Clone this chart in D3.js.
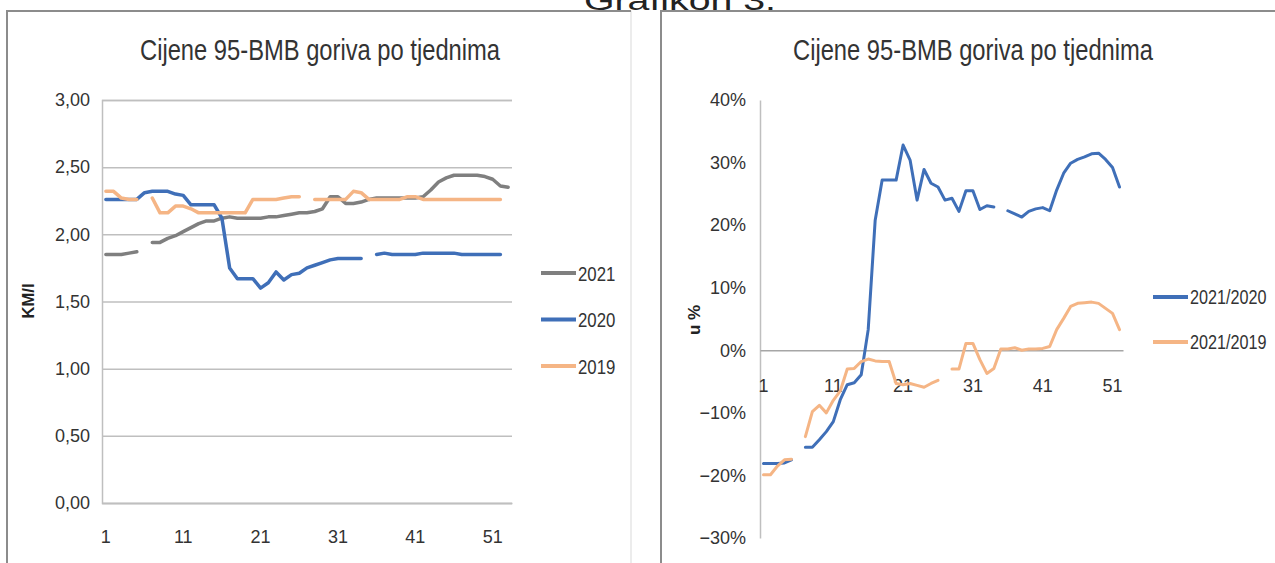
<!DOCTYPE html>
<html><head><meta charset="utf-8">
<script src="https://cdn.jsdelivr.net/npm/d3@7"></script>
<style>
html,body{margin:0;padding:0;background:#fff;}
svg{display:block;}
text{font-family:"Liberation Sans Narrow","Liberation Sans",Arial,sans-serif;fill:#3a3a3a;}
</style></head><body>
<svg id="c" width="1275" height="563"></svg>
<script>
// ---------- DATA ----------
const chartTitle = "Cijene 95-BMB goriva po tjednima";
const pageCaption = "Grafikon 3.";
const weeksLeft = d3.range(1, 54);   // 53 weeks
const weeksRight = d3.range(1, 53);  // 52 weeks
const xTickLabels = [1, 11, 21, 31, 41, 51];
const yTicksLeft = [0, 0.5, 1, 1.5, 2, 2.5, 3];
const yTicksRight = [-0.3, -0.2, -0.1, 0, 0.1, 0.2, 0.3, 0.4];

const price2021 = [1.85,1.85,1.85,1.86,1.87,null,1.94,1.94,1.97,1.99,2.02,2.05,2.08,2.10,2.10,2.12,2.13,2.12,2.12,2.12,2.12,2.13,2.13,2.14,2.15,2.16,2.16,2.17,2.19,2.28,2.28,2.23,2.23,2.24,2.26,2.27,2.27,2.27,2.27,2.27,2.27,2.28,2.33,2.39,2.42,2.44,2.44,2.44,2.44,2.43,2.41,2.36,2.35];
const price2020 = [2.26,2.26,2.26,2.26,2.26,2.31,2.32,2.32,2.32,2.30,2.29,2.22,2.22,2.22,2.22,2.12,1.75,1.67,1.67,1.67,1.60,1.64,1.72,1.66,1.70,1.71,1.75,1.77,1.79,1.81,1.82,1.82,1.82,1.82,null,1.85,1.86,1.85,1.85,1.85,1.85,1.86,1.86,1.86,1.86,1.86,1.85,1.85,1.85,1.85,1.85,1.85,null];
const price2019 = [2.32,2.32,2.27,2.26,2.26,null,2.27,2.16,2.16,2.21,2.21,2.19,2.16,2.16,2.16,2.16,2.16,2.16,2.16,2.26,2.26,2.26,2.26,2.27,2.28,2.28,null,2.26,2.26,2.26,2.26,2.26,2.32,2.31,2.26,2.26,2.26,2.26,2.26,2.28,2.28,2.26,2.26,2.26,2.26,2.26,2.26,2.26,2.26,2.26,2.26,2.26,null];

const change2120 = [-18.1,-18.1,-18.1,-18.0,-17.5,null,-15.5,-15.5,-14.3,-13.0,-11.4,-7.9,-5.5,-5.2,-3.9,3.3,20.8,27.2,27.2,27.2,32.8,30.4,24.0,28.9,26.7,26.1,24.0,24.3,22.2,25.5,25.5,22.5,23.1,22.9,null,22.3,21.8,21.3,22.2,22.6,22.8,22.3,25.6,28.3,29.9,30.5,30.9,31.4,31.5,30.5,29.2,26.1];
const change2119 = [-19.9,-19.9,-18.5,-17.5,-17.4,null,-13.8,-9.8,-8.8,-10.0,-8.0,-6.5,-3.0,-2.9,-1.8,-1.4,-1.7,-1.8,-1.8,-5.3,-5.5,-5.3,-5.6,-5.9,-5.3,-4.8,null,-3.0,-3.0,1.1,1.1,-1.5,-3.7,-2.9,0.2,0.2,0.4,0.0,0.2,0.2,0.3,0.6,3.3,5.1,7.0,7.5,7.6,7.7,7.5,6.7,5.9,3.3];

const leftSeries = [
  {name:"2021", values:price2021, color:"#7f7f7f"},
  {name:"2020", values:price2020, color:"#3f6fb8"},
  {name:"2019", values:price2019, color:"#f5b585"}
];
const rightSeries = [
  {name:"2021/2020", values:change2120, color:"#3f6fb8"},
  {name:"2021/2019", values:change2119, color:"#f5b585"}
];

// ---------- DRAW ----------
const svg = d3.select("#c");

// panels
svg.append("rect").attr("x",7).attr("y",11).attr("width",624).attr("height",560)
  .attr("fill","#fff").attr("stroke","#d9d9d9").attr("stroke-width",1);
svg.append("path").attr("d","M7,563V11H631").attr("fill","none").attr("stroke","#8c8c8c").attr("stroke-width",2);
svg.append("rect").attr("x",661).attr("y",11).attr("width",620).attr("height",560)
  .attr("fill","#fff").attr("stroke","#d9d9d9").attr("stroke-width",1);
svg.append("path").attr("d","M661,563V11H1275").attr("fill","none").attr("stroke","#8c8c8c").attr("stroke-width",2);

// page caption (cut at top, as in the source)
svg.append("text").attr("x",680).attr("y",10).attr("text-anchor","middle")
  .attr("font-size",28).attr("textLength",192).attr("lengthAdjust","spacingAndGlyphs")
  .style("font-family","Liberation Sans, Arial, sans-serif").style("fill","#222").text(pageCaption);

// ---- LEFT CHART ----
const L = {x0:102, x1:512, y0:503, y1:100};
const xL = d3.scaleBand().domain(weeksLeft).range([L.x0, L.x1]);
const yL = d3.scaleLinear().domain([0,3]).range([L.y0, L.y1]);
const fmtL = v => d3.format(".2f")(v).replace(".", ",");

const gL = svg.append("g");
const gy = gL.append("g").attr("transform",`translate(${L.x0},0)`)
  .call(d3.axisLeft(yL).tickValues(yTicksLeft).tickFormat(fmtL).tickSize(-(L.x1-L.x0)).tickPadding(12));
gy.select(".domain").attr("stroke","#bfbfbf").attr("stroke-width",1.5);
gy.selectAll(".tick line").attr("stroke","#bfbfbf").attr("stroke-width",1.5);
gy.selectAll(".tick text").attr("font-size",18).style("font-family","Liberation Sans, Arial, sans-serif").style("fill","#333");

const gx = gL.append("g").attr("transform",`translate(0,${L.y0})`)
  .call(d3.axisBottom(xL).tickValues(xTickLabels).tickSize(0).tickPadding(27));
gx.select(".domain").attr("stroke","#bfbfbf").attr("stroke-width",1.5);
gx.selectAll(".tick text").attr("font-size",18).style("font-family","Liberation Sans, Arial, sans-serif").style("fill","#333");

const lineL = d3.line().defined(d => d.v != null)
  .x(d => xL(d.w) + xL.bandwidth()/2).y(d => yL(d.v));
leftSeries.forEach(s => {
  gL.append("path").datum(weeksLeft.map((w,i)=>({w, v:s.values[i]})))
    .attr("d", lineL).attr("fill","none").attr("stroke", s.color)
    .attr("stroke-width",3.5).attr("stroke-linejoin","round").attr("stroke-linecap","round");
});

svg.append("text").attr("x",320).attr("y",60).attr("text-anchor","middle")
  .attr("font-size",30).attr("textLength",360).attr("lengthAdjust","spacingAndGlyphs")
  .style("fill","#333").text(chartTitle);

svg.append("text").attr("transform","translate(34,301) rotate(-90)").attr("text-anchor","middle")
  .attr("font-size",16).attr("font-weight","bold").attr("textLength",35).attr("lengthAdjust","spacingAndGlyphs")
  .style("font-family","Liberation Sans, Arial, sans-serif").style("fill","#222").text("KM/l");

const legL = svg.append("g");
leftSeries.forEach((s,i) => {
  const y = 273 + i*46.5;
  legL.append("line").attr("x1",541).attr("x2",576).attr("y1",y).attr("y2",y)
    .attr("stroke",s.color).attr("stroke-width",4);
  legL.append("text").attr("transform",`translate(578,${y}) scale(0.8,1)`).attr("dy","0.36em")
    .attr("font-size",21).style("font-family","Liberation Sans, Arial, sans-serif").style("fill","#333").text(s.name);
});

// ---- RIGHT CHART ----
const R = {x0:760, x1:1123, y0:538, y1:100};
const xR = d3.scaleBand().domain(weeksRight).range([R.x0, R.x1]);
const yR = d3.scaleLinear().domain([-0.3,0.4]).range([R.y0, R.y1]);

const gR = svg.append("g");
const gyR = gR.append("g").attr("transform",`translate(${R.x0},0)`)
  .call(d3.axisLeft(yR).tickValues(yTicksRight).tickFormat(d3.format(".0%")).tickSize(0).tickPadding(14));
gyR.select(".domain").attr("stroke","#bfbfbf").attr("stroke-width",1.5);
gyR.selectAll(".tick text").attr("font-size",18).style("font-family","Liberation Sans, Arial, sans-serif").style("fill","#333");

const gxR = gR.append("g").attr("transform",`translate(0,${yR(0)})`)
  .call(d3.axisBottom(xR).tickValues(xTickLabels).tickSize(0).tickPadding(29));
gxR.select(".domain").attr("stroke","#a6a6a6").attr("stroke-width",1.5);
gxR.selectAll(".tick text").attr("font-size",18).style("font-family","Liberation Sans, Arial, sans-serif").style("fill","#333");

const lineR = d3.line().defined(d => d.v != null)
  .x(d => xR(d.w) + xR.bandwidth()/2).y(d => yR(d.v/100));
rightSeries.forEach(s => {
  gR.append("path").datum(weeksRight.map((w,i)=>({w, v:s.values[i]})))
    .attr("d", lineR).attr("fill","none").attr("stroke", s.color)
    .attr("stroke-width",3).attr("stroke-linejoin","round").attr("stroke-linecap","round");
});

svg.append("text").attr("x",973).attr("y",60).attr("text-anchor","middle")
  .attr("font-size",30).attr("textLength",360).attr("lengthAdjust","spacingAndGlyphs")
  .style("fill","#333").text(chartTitle);

svg.append("text").attr("transform","translate(700,320) rotate(-90)").attr("text-anchor","middle")
  .attr("font-size",17).attr("font-weight","bold")
  .style("font-family","Liberation Sans, Arial, sans-serif").style("fill","#222").text("u %");

const legR = svg.append("g");
rightSeries.forEach((s,i) => {
  const y = 297 + i*45;
  legR.append("line").attr("x1",1153).attr("x2",1188).attr("y1",y).attr("y2",y)
    .attr("stroke",s.color).attr("stroke-width",4);
  legR.append("text").attr("transform",`translate(1190,${y}) scale(0.81,1)`).attr("dy","0.36em")
    .attr("font-size",20).style("font-family","Liberation Sans, Arial, sans-serif").style("fill","#333").text(s.name);
});
</script>
</body></html>
